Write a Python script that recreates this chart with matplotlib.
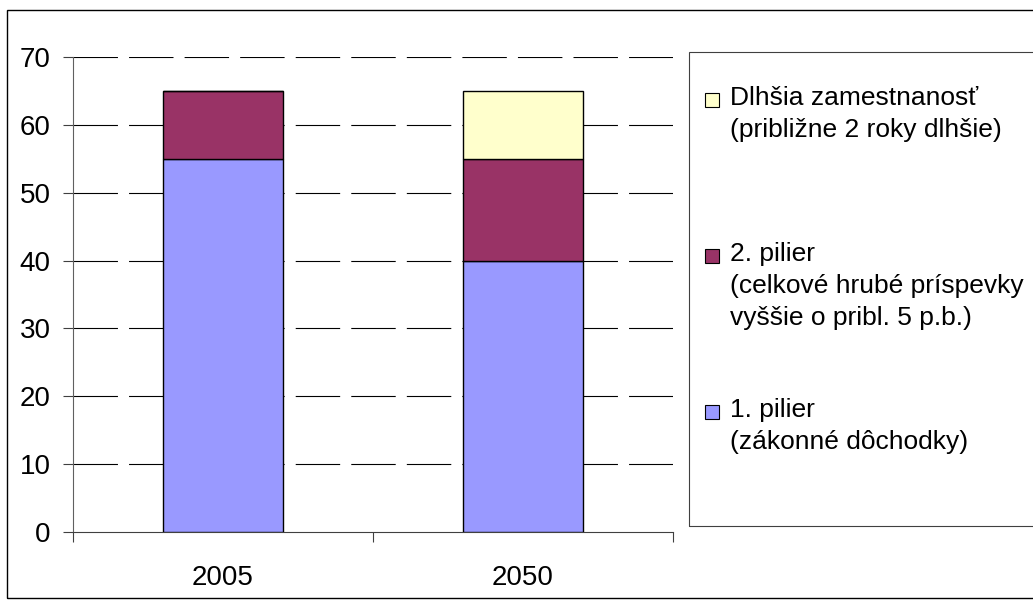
import numpy as np
import matplotlib.pyplot as plt
from matplotlib.patches import Rectangle

plt.rcParams['font.family'] = ['Liberation Sans', 'DejaVu Sans']

# data
years = ['2005', '2050']
pilier1 = [55, 40]
pilier2 = [10, 15]
dlhsia = [0, 10]
series_labels = ['1. pilier\n(zákonné dôchodky)',
                 '2. pilier\n(celkové hrubé príspevky\nvyššie o pribl. 5 p.b.)',
                 'Dlhšia zamestnanosť\n(približne 2 roky dlhšie)']
colors = ['#9999FF', '#993366', '#FFFFCC']

W, H = 1033, 601
fig = plt.figure(figsize=(W / 100, H / 100), dpi=100)
ax = fig.add_axes([73 / W, 1 - 532 / H, 600 / W, (532 - 57) / H])

x = np.arange(len(years))
bottom = np.zeros(len(years))
for vals, c in zip([pilier1, pilier2, dlhsia], colors):
    vals = np.array(vals, dtype=float)
    ax.bar(x, vals, width=0.4, bottom=bottom, color=c, edgecolor='black',
           linewidth=1, zorder=3)
    bottom += vals

ax.set_xlim(-0.5, 1.5)
ax.set_ylim(0, 70)
ax.set_yticks(range(0, 71, 10))
ax.tick_params(axis='y', direction='out', length=7, width=0.8, labelsize=20, pad=9,
               colors='#404040', labelcolor='black')
ax.set_xticks([-0.5, 0.5, 1.5])
ax.set_xticklabels([])
ax.set_xticks(x, minor=True)
ax.set_xticklabels(years, minor=True)
ax.tick_params(axis='x', which='major', direction='out', length=7, width=0.8,
               colors='#404040')
ax.tick_params(axis='x', which='minor', length=0, labelsize=20, pad=24)

for yv in range(10, 71, 10):
    ax.axhline(yv, color='black', linewidth=0.8, dashes=(40, 10), zorder=1)

for s in ['top', 'right']:
    ax.spines[s].set_visible(False)
ax.spines['left'].set_color('#606060')
ax.spines['bottom'].set_color('#404040')

# figure border
fig.patches.append(Rectangle((7 / W, 1 - 598 / H), 1.2, (598 - 10) / H,
                             transform=fig.transFigure, fill=False,
                             edgecolor='black', linewidth=1))

# legend box
fig.patches.append(Rectangle((689 / W, 1 - 526 / H), 0.5, (526 - 52) / H,
                             transform=fig.transFigure, fill=False,
                             edgecolor='#404040', linewidth=0.8))

legend_y = [412, 256, 100]
for lab, c, py in zip(series_labels, colors, legend_y):
    fig.patches.append(Rectangle((705 / W, 1 - (py + 7) / H), 14 / W, 14 / H,
                                 transform=fig.transFigure, facecolor=c,
                                 edgecolor='black', linewidth=0.8))
    fig.text(730 / W, 1 - (py - 14) / H, lab, fontsize=19, va='top', ha='left',
             linespacing=1.42)

fig.savefig('out.png', dpi=100)
